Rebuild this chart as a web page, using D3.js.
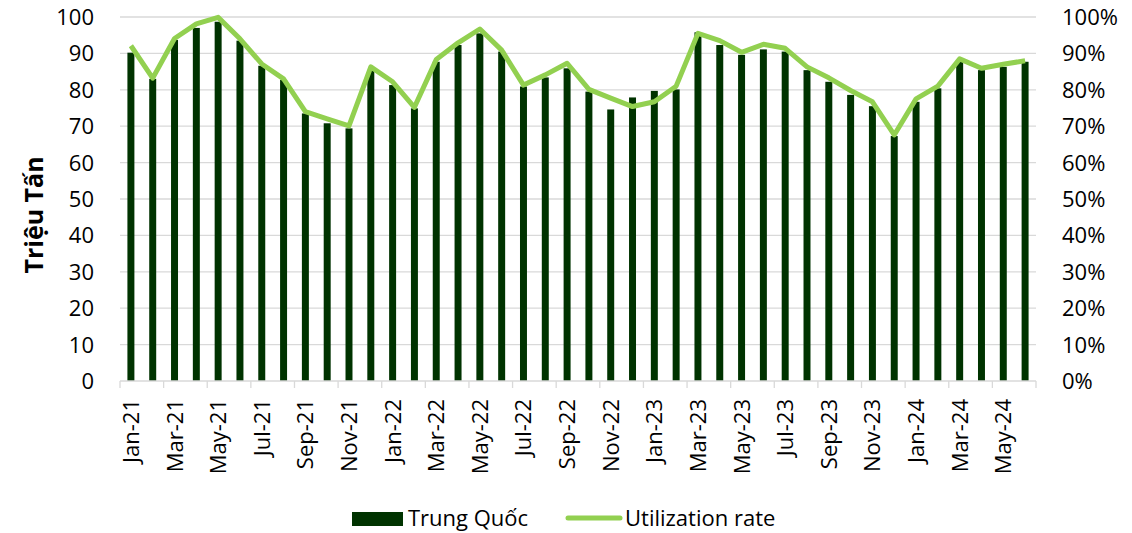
<!DOCTYPE html>
<html>
<head>
<meta charset="utf-8">
<script src="https://cdn.jsdelivr.net/npm/d3@7"></script>
<style>
  body { margin: 0; background: #fff; }
  text { font-family: "Open Sans", "Noto Sans", sans-serif; fill: #000; }
</style>
</head>
<body>
<div id="chart"></div>
<script>
// monthly data Jan-21 .. Jun-24
var months = ["Jan-21","Feb-21","Mar-21","Apr-21","May-21","Jun-21","Jul-21","Aug-21","Sep-21","Oct-21","Nov-21","Dec-21",
  "Jan-22","Feb-22","Mar-22","Apr-22","May-22","Jun-22","Jul-22","Aug-22","Sep-22","Oct-22","Nov-22","Dec-22",
  "Jan-23","Feb-23","Mar-23","Apr-23","May-23","Jun-23","Jul-23","Aug-23","Sep-23","Oct-23","Nov-23","Dec-23",
  "Jan-24","Feb-24","Mar-24","Apr-24","May-24","Jun-24"];

// Trung Quốc output (million tonnes)
var output = [90.2, 83, 93.7, 97, 98.7, 93.5, 86.6, 82.7, 73.5, 70.8, 69.4, 85.4,
  81.3, 74.9, 87.7, 92.3, 95.5, 90.5, 80.9, 83.4, 85.9, 79.5, 74.6, 77.9,
  79.7, 80.1, 95.8, 92.3, 89.6, 91.1, 90.5, 85.4, 82.2, 78.6, 75.5, 67.3,
  76.7, 80.4, 87.7, 85.4, 86.3, 87.7];

// utilization rate (%)
var utilization = [92.1, 83.2, 94.1, 98.1, 99.9, 94, 87.1, 83, 74, 72, 70.1, 86.3,
  82.2, 75.2, 88.3, 92.9, 96.7, 90.9, 81.3, 84.1, 87.3, 80.1, 77.7, 75.4,
  76.7, 81, 95.5, 93.5, 90.3, 92.5, 91.4, 86.3, 83.3, 79.8, 76.7, 67.6,
  77.5, 81, 88.5, 85.9, 87, 88];

var leftTicks = [0, 10, 20, 30, 40, 50, 60, 70, 80, 90, 100];
var rightTicks = [0, 10, 20, 30, 40, 50, 60, 70, 80, 90, 100];

var svgWidth = 1132;
var svgHeight = 533;

var margin = { top: 17, right: 96, bottom: 152, left: 120 };
var width = svgWidth - margin.left - margin.right;
var height = svgHeight - margin.top - margin.bottom;

var svg = d3.select("#chart").append("svg")
  .attr("width", svgWidth).attr("height", svgHeight);

var chartGroup = svg.append("g")
  .attr("transform", `translate(${margin.left}, ${margin.top})`);

var x = d3.scaleBand().domain(months).range([0, width]).paddingInner(0.68).paddingOuter(0.34);
var yLeft = d3.scaleLinear().domain([0, 100]).range([height, 0]);
var yRight = d3.scaleLinear().domain([0, 100]).range([height, 0]);

// gridlines
chartGroup.selectAll(".grid")
  .data(leftTicks.filter(d => d > 0))
  .enter().append("line")
  .attr("x1", 0).attr("x2", width)
  .attr("y1", d => yLeft(d)).attr("y2", d => yLeft(d))
  .attr("stroke", "#d9d9d9").attr("stroke-width", 1.3);

// bars
chartGroup.selectAll(".bar")
  .data(output)
  .enter().append("rect")
  .attr("x", (d, i) => x(months[i]))
  .attr("y", d => yLeft(d))
  .attr("width", x.bandwidth())
  .attr("height", d => height - yLeft(d))
  .attr("fill", "#003300");

// x axis
var step = x.step();
var xAxis = chartGroup.append("g").attr("transform", `translate(0, ${height})`);
xAxis.append("line").attr("x1", 0).attr("x2", width).attr("stroke", "#d9d9d9").attr("stroke-width", 1.3);
var tickPos = d3.range(0, months.length + 1, 2).map(i => i * step);
xAxis.selectAll(".xtick")
  .data(tickPos)
  .enter().append("line")
  .attr("x1", d => d).attr("x2", d => d)
  .attr("y1", 0).attr("y2", 7)
  .attr("stroke", "#d9d9d9").attr("stroke-width", 1.3);

xAxis.selectAll(".xlabel")
  .data(months.filter((d, i) => i % 2 === 0))
  .enter().append("text")
  .attr("transform", d => `translate(${x(d) + x.bandwidth() / 2 + 8}, 18) rotate(-90)`)
  .attr("text-anchor", "end")
  .style("font-size", "22px")
  .text(d => d);

// left axis labels
chartGroup.selectAll(".ylabel")
  .data(leftTicks)
  .enter().append("text")
  .attr("x", -26)
  .attr("y", d => yLeft(d) + 8)
  .attr("text-anchor", "end")
  .style("font-size", "22px")
  .text(d => d);

// right axis labels
chartGroup.selectAll(".rlabel")
  .data(rightTicks)
  .enter().append("text")
  .attr("x", width + 26)
  .attr("y", d => yRight(d) + 8)
  .attr("text-anchor", "start")
  .style("font-size", "22px")
  .text(d => d + "%");

// y title
chartGroup.append("text")
  .attr("transform", `translate(-77, ${height / 2 + 16}) rotate(-90)`)
  .attr("text-anchor", "middle")
  .style("font-size", "25px")
  .style("font-weight", "bold")
  .text("Triệu Tấn");

// utilization line
var line = d3.line()
  .x((d, i) => x(months[i]) + x.bandwidth() / 2)
  .y(d => yRight(d));

chartGroup.append("path")
  .datum(utilization)
  .attr("d", line)
  .attr("fill", "none")
  .attr("stroke", "#92d050")
  .attr("stroke-width", 5)
  .attr("stroke-linejoin", "round");

// legend
var legend = svg.append("g");
legend.append("rect").attr("x", 352).attr("y", 512).attr("width", 51).attr("height", 14).attr("fill", "#003300");
legend.append("text").attr("x", 408).attr("y", 526).style("font-size", "22px").text("Trung Quốc");
legend.append("line").attr("x1", 568).attr("x2", 620).attr("y1", 518).attr("y2", 518)
  .attr("stroke", "#92d050").attr("stroke-width", 5).attr("stroke-linecap", "round");
legend.append("text").attr("x", 625).attr("y", 526).style("font-size", "22px").text("Utilization rate");
</script>
</body>
</html>
